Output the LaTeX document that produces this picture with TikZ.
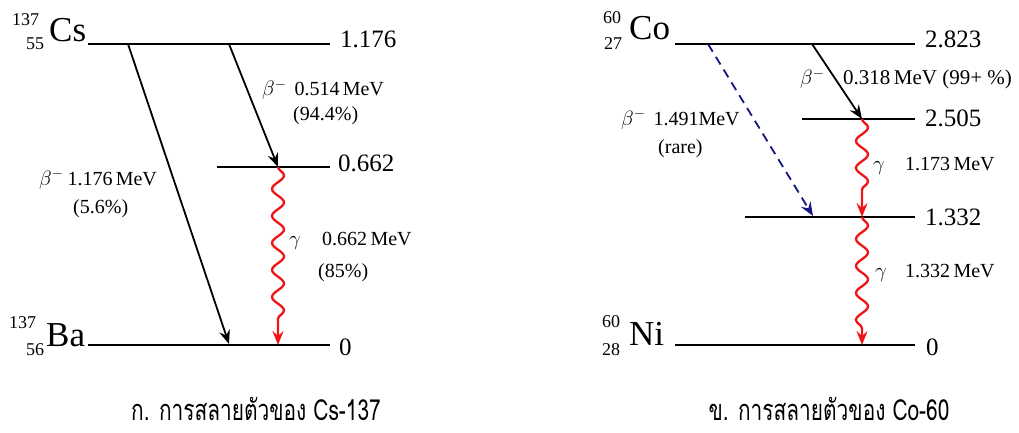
\documentclass[tikz,border=0pt]{standalone}
\usepackage{fontspec}
\setmainfont{Liberation Serif}
\newfontfamily\thaifont[Script=Thai]{Loma}
\usetikzlibrary{arrows.meta,decorations.pathmorphing}
\definecolor{navyblue}{RGB}{20,20,130}
\definecolor{gred}{RGB}{240,20,20}
\begin{document}
\begin{tikzpicture}[x=1pt,y=-1pt,
  level/.style={line width=2.2pt},
  lvl/.style={anchor=base west, inner sep=0pt, font=\fontsize{25}{28}\selectfont},
  el/.style={anchor=base west, inner sep=0pt, font=\fontsize{35}{38}\selectfont},
  iso/.style={anchor=base west, inner sep=0pt, font=\fontsize{18}{20}\selectfont},
  lab/.style={anchor=base west, inner sep=0pt, font=\fontsize{20}{24}\selectfont},
  labbig/.style={anchor=base west, inner sep=0pt, font=\fontsize{21}{24}\selectfont},
  tip/.style={-{Stealth[length=14pt,width=11pt,inset=5pt]}},
  betaarrow/.style={line width=1.8pt, tip},
  betarare/.style={line width=1.8pt, draw=navyblue, dash pattern=on 9pt off 6pt, -{Stealth[length=14pt,width=11pt,inset=5pt,fill=navyblue]}},
  gam/.style={line width=2.3pt, draw=gred, tip, decorate,
    decoration={snake, amplitude=6pt, segment length=27pt, post length=14pt}},
  captxt/.style={anchor=base, inner sep=0pt, font=\thaifont\fontsize{29}{32}\selectfont, xscale=0.72, transform shape}]
\useasboundingbox (0,0) rectangle (1019,433);

% ---------- Cs-137 ----------
\coordinate (csTopL) at (88,44);
\coordinate (csTopR) at (330,44);
\coordinate (csMidL) at (217,167);
\coordinate (csMidR) at (330,167);
\coordinate (baL) at (88,345);
\coordinate (baR) at (330,345);
\draw[level] (csTopL) -- (csTopR);
\draw[level] (csMidL) -- (csMidR);
\draw[level] (baL) -- (baR);

\node[iso] (csA) at (12,26) {137};
\node[iso] (csZ) at (26,50) {55};
\node[el] (cs) at (49,42) {Cs};
\node[iso] (baA) at (9,328) {137};
\node[iso] (baZ) at (26,355) {56};
\node[el] (ba) at (46,346) {Ba};

\node[lvl] (e1176) at (340,48) {1.176};
\node[lvl] (e0662) at (338,171) {0.662};
\node[lvl] (e0) at (339,355) {0};

\coordinate (b1s) at (128,44);
\coordinate (b1e) at (229,344);
\coordinate (b2s) at (229,44);
\coordinate (b2e) at (278,167);
\coordinate (g1e) at (278,345);
\draw[betaarrow] (b1s) -- (b1e);
\draw[betaarrow] (b2s) -- (b2e);
\draw[gam] (b2e) -- (g1e);

\node[lab] (lb2) at (262,96) {$\beta^{-}$\hspace{8pt}0.514\,MeV};
\node[lab] (lb2p) at (293,121) {(94.4\%)};
\node[lab] (lb1) at (39,185) {$\beta^{-}$\hspace{4pt}1.176\,MeV};
\node[lab] (lb1p) at (73,213) {(5.6\%)};
\node[lab] (lg1) at (289,245) {$\gamma$};
\node[lab] (lg1e) at (322,245) {0.662\,MeV};
\node[lab] (lg1p) at (318,277) {(85\%)};

% ---------- Co-60 ----------
\coordinate (coTopL) at (675,44);
\coordinate (coTopR) at (915,44);
\coordinate (co2L) at (802,119);
\coordinate (co2R) at (915,119);
\coordinate (co1L) at (745,217);
\coordinate (co1R) at (915,217);
\coordinate (niL) at (675,345);
\coordinate (niR) at (915,345);
\draw[level] (coTopL) -- (coTopR);
\draw[level] (co2L) -- (co2R);
\draw[level] (co1L) -- (co1R);
\draw[level] (niL) -- (niR);

\node[iso] (coA) at (603,24) {60};
\node[iso] (coZ) at (604,50) {27};
\node[el] (co) at (629,40) {Co};
\node[iso] (niA) at (602,327) {60};
\node[iso] (niZ) at (602,355) {28};
\node[el] (ni) at (629,345) {Ni};

\node[lvl] (e2823) at (925,48) {2.823};
\node[lvl] (e2505) at (925,126) {2.505};
\node[lvl] (e1332) at (925,225) {1.332};
\node[lvl] (e0b) at (926,355) {0};

\coordinate (c1s) at (812,44);
\coordinate (c1e) at (862,119);
\coordinate (c2s) at (708,44);
\coordinate (c2e) at (813,216);
\coordinate (g2e) at (862,217);
\coordinate (g3e) at (862,345);
\draw[betarare] (c2s) -- (c2e);
\draw[betaarrow] (c1s) -- (c1e);
\draw[gam] (c1e) -- (g2e);
\draw[gam] (g2e) -- (g3e);

\node[labbig] (lc1b) at (800,85) {$\beta^{-}$};
\node[labbig] (lc1) at (843,85) {0.318\,MeV (99+ \%)};
\node[lab] (lc2) at (621,125) {$\beta^{-}$\hspace{8pt}1.491MeV};
\node[lab] (lc2p) at (658,153) {(rare)};
\node[lab] (lg2) at (873,170) {$\gamma$};
\node[lab] (lg2e) at (905,170) {1.173\,MeV};
\node[lab] (lg3) at (875,277) {$\gamma$};
\node[lab] (lg3e) at (905,277) {1.332\,MeV};

% ---------- captions ----------
\node[captxt] (capA) at (256,420) {ก. การสลายตัวของ Cs-137};
\node[captxt] (capB) at (829,420) {ข. การสลายตัวของ Co-60};
\end{tikzpicture}
\end{document}
